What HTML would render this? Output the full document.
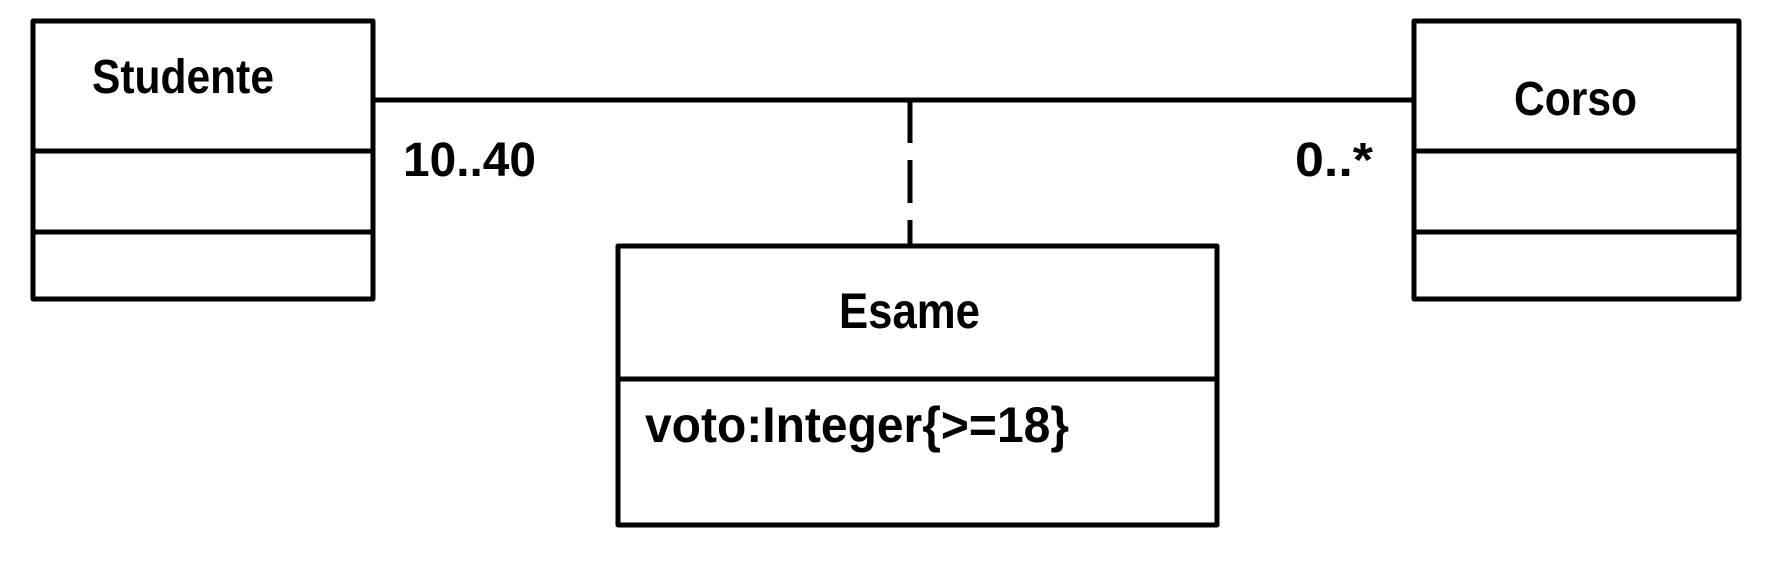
<!DOCTYPE html>
<html><head><meta charset="utf-8"><style>html,body{margin:0;padding:0;background:#fff;width:1768px;height:562px;overflow:hidden}</style></head>
<body>
<svg width="1768" height="562" viewBox="0 0 1768 562" xmlns="http://www.w3.org/2000/svg">
<g fill="none" stroke="#000" stroke-width="5" stroke-linejoin="round">
<rect x="33" y="21" width="340" height="278"/>
<line x1="33" y1="151" x2="373" y2="151"/>
<line x1="33" y1="232" x2="373" y2="232"/>
<rect x="1414" y="21" width="325" height="278"/>
<line x1="1414" y1="151" x2="1739" y2="151"/>
<line x1="1414" y1="232" x2="1739" y2="232"/>
<line x1="373" y1="100" x2="1414" y2="100"/>
<line x1="910" y1="100" x2="910" y2="246" stroke-dasharray="43 17"/>
<rect x="618" y="246" width="599" height="279"/>
<line x1="618" y1="379" x2="1217" y2="379"/>
</g>
<g font-family="Liberation Sans, sans-serif" font-weight="bold" font-size="48" fill="#000">
<text x="92" y="93" textLength="182" lengthAdjust="spacingAndGlyphs">Studente</text>
<text x="1514" y="115" textLength="123" lengthAdjust="spacingAndGlyphs">Corso</text>
<text x="403" y="176" textLength="133" lengthAdjust="spacingAndGlyphs">10..40</text>
<text x="1295" y="176" textLength="78" lengthAdjust="spacingAndGlyphs">0..*</text>
<text x="839" y="328" font-size="50" textLength="141" lengthAdjust="spacingAndGlyphs">Esame</text>
<text x="645" y="442" font-size="50" textLength="424" lengthAdjust="spacingAndGlyphs">voto:Integer{&gt;=18}</text>
</g>
</svg>
</body></html>
